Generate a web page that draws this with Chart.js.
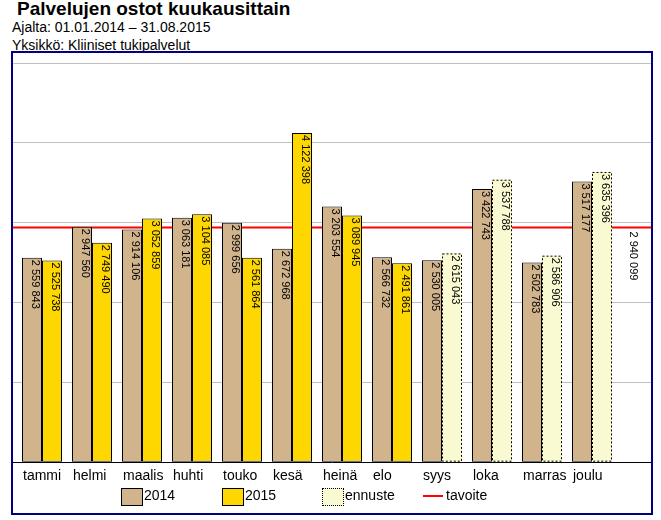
<!DOCTYPE html>
<html>
<head>
<meta charset="utf-8">
<script src="https://cdn.jsdelivr.net/npm/chart.js@4"></script>
<style>
body { margin: 0; background: #fff; font-family: "Liberation Sans", Arial, sans-serif; color: #000; }
#wrap { position: relative; width: 661px; height: 520px; overflow: hidden; }
.title { position: absolute; left: 17px; top: -2px; font-size: 19px; font-weight: bold; line-height: 21px; white-space: nowrap; }
.sub { position: absolute; left: 12px; font-size: 14px; line-height: 16px; white-space: nowrap; }
#frame { position: absolute; left: 11px; top: 51px; width: 642px; height: 464px; border: 2px solid #000080; box-sizing: border-box; }
#c { position: absolute; left: 0; top: 0; }
.lg-box { position: absolute; top: 488px; width: 22px; height: 18px; box-sizing: border-box; border: 1px solid #000; }
.lg-line { position: absolute; top: 495px; width: 20px; height: 2px; }
.lg-txt { position: absolute; top: 486px; font-size: 14px; line-height: 18px; }
</style>
</head>
<body>
<div id="wrap">
  <div class="title">Palvelujen ostot kuukausittain</div>
  <div class="sub" style="top:19px">Ajalta: 01.01.2014 – 31.08.2015</div>
  <div class="sub" style="top:37px">Yksikkö: Kliiniset tukipalvelut</div>
  <div id="frame"></div>
  <canvas id="c" width="661" height="520"></canvas>
  <div id="legend"></div>
</div>
<script>
// kuukaudet ja arvot (euroa)
var months = ['tammi', 'helmi', 'maalis', 'huhti', 'touko', 'kesä', 'heinä', 'elo', 'syys', 'loka', 'marras', 'joulu'];
var v2014 = [2559843, 2947560, 2914106, 3063181, 2999656, 2672968, 3203554, 2566732, 2530005, 3422743, 2502783, 3517177];
var v2015 = [2525738, 2749490, 3052859, 3104085, 2561864, 4122398, 3089945, 2491861];
var ennuste = [null, null, null, null, null, null, null, null, 2615043, 3537788, 2586906, 3635396];
var tavoite = 2940099;
var yMax = 5000000;
var yStep = 1000000;

var xMin = -0.58, xMax = 12.18;
var fontFam = '"Liberation Sans", Arial, sans-serif';
var colors = { c2014: '#D2B48C', c2015: '#FFD700', ennuste: '#FAFAD2', tavoite: '#FF0000' };

function fmt(v) {
	return String(v).replace(/\B(?=(\d{3})+(?!\d))/g, ' ');
}
function points(arr) {
	var out = [];
	for (var i = 0; i < arr.length; i++) {
		if (arr[i] !== null) out.push({ x: i, y: arr[i] });
	}
	return out;
}

// pystyt arvotekstit pylväisiin + ennusteen pisteviiva
var barLabels = {
	id: 'barLabels',
	afterDatasetsDraw: function (chart) {
		var ctx = chart.ctx;
		for (var d = 0; d < 3; d++) {
			var meta = chart.getDatasetMeta(d);
			var ds = chart.data.datasets[d];
			meta.data.forEach(function (el, j) {
				if (d == 2) {
					var left = el.x - el.width / 2, top = el.y, h = el.base - el.y;
					ctx.save();
					ctx.strokeStyle = '#000';
					ctx.lineWidth = 1;
					ctx.setLineDash([2, 2]);
					ctx.strokeRect(left + 0.5, top + 0.5, el.width - 1, h - 1);
					ctx.restore();
				}
				ctx.save();
				ctx.font = '11px ' + fontFam;
				ctx.fillStyle = '#000';
				ctx.textAlign = 'left';
				ctx.textBaseline = 'alphabetic';
				ctx.translate(el.x, el.y + 2);
				ctx.rotate(Math.PI / 2);
				ctx.fillText(fmt(ds.data[j].y), 0, 0);
				ctx.restore();
			});
		}
		// tavoite-arvo oikeaan reunaan
		var ty = chart.scales.y.getPixelForValue(tavoite);
		ctx.save();
		ctx.font = '11px ' + fontFam;
		ctx.fillStyle = '#000';
		ctx.translate(chart.chartArea.right - 21, ty + 4);
		ctx.rotate(Math.PI / 2);
		ctx.fillText(fmt(tavoite), 0, 0);
		ctx.restore();
	}
};

var chart = new Chart(document.getElementById('c').getContext('2d'), {
	type: 'bar',
	data: {
		datasets: [
			{ label: '2014', data: points(v2014), backgroundColor: colors.c2014, borderColor: '#000', borderWidth: 1, borderSkipped: false, stack: 'a', order: 1 },
			{ label: '2015', data: points(v2015), backgroundColor: colors.c2015, borderColor: '#000', borderWidth: 1, borderSkipped: false, stack: 'b', order: 1 },
			{ label: 'ennuste', data: points(ennuste), backgroundColor: colors.ennuste, borderWidth: 0, stack: 'b', order: 1 },
			{ type: 'line', label: 'tavoite', data: [{ x: xMin, y: tavoite }, { x: xMax, y: tavoite }], borderColor: colors.tavoite, borderWidth: 2, pointRadius: 0, order: 5 }
		]
	},
	options: {
		responsive: false,
		animation: false,
		datasets: { bar: { categoryPercentage: 0.8, barPercentage: 1.0 } },
		layout: { padding: { left: 13, right: 10, top: 63, bottom: 29 } },
		plugins: { legend: { display: false }, tooltip: { enabled: false } },
		scales: {
			x: {
				type: 'linear', min: xMin, max: xMax, offset: false,
				grid: { display: false, drawTicks: false },
				border: { display: true, color: '#000', width: 1 },
				ticks: {
					stepSize: 1, includeBounds: false, autoSkip: false, maxRotation: 0,
					align: 'start', labelOffset: -19, padding: 6, color: '#000',
					font: { size: 14, family: fontFam },
					callback: function (v) { return months[v] || ''; }
				}
			},
			y: {
				min: 0, max: yMax, stacked: false,
				ticks: { display: false, stepSize: yStep },
				grid: {
					drawTicks: false,
					color: function (c) { return c.tick && c.tick.value === 0 ? 'rgba(0,0,0,0)' : '#C0C0C0'; }
				},
				border: { display: false }
			}
		}
	},
	plugins: [barLabels]
});

// selite
var legendItems = [
	{ text: '2014', fill: colors.c2014, type: 'box' },
	{ text: '2015', fill: colors.c2015, type: 'box' },
	{ text: 'ennuste', fill: colors.ennuste, type: 'dash' },
	{ text: 'tavoite', fill: colors.tavoite, type: 'line' }
];
var lg = document.getElementById('legend');
for (var i = 0; i < legendItems.length; i++) {
	var it = legendItems[i];
	var x0 = 121 + i * 100.5;
	var mark = document.createElement('div');
	if (it.type == 'line') {
		mark.className = 'lg-line';
		mark.style.background = it.fill;
	} else {
		mark.className = 'lg-box';
		mark.style.background = it.fill;
		if (it.type == 'dash') mark.style.borderStyle = 'dotted';
	}
	mark.style.left = Math.round(x0) + 'px';
	lg.appendChild(mark);
	var t = document.createElement('div');
	t.className = 'lg-txt';
	t.textContent = it.text;
	t.style.left = Math.round(x0 + 23) + 'px';
	lg.appendChild(t);
}
</script>
</body>
</html>
